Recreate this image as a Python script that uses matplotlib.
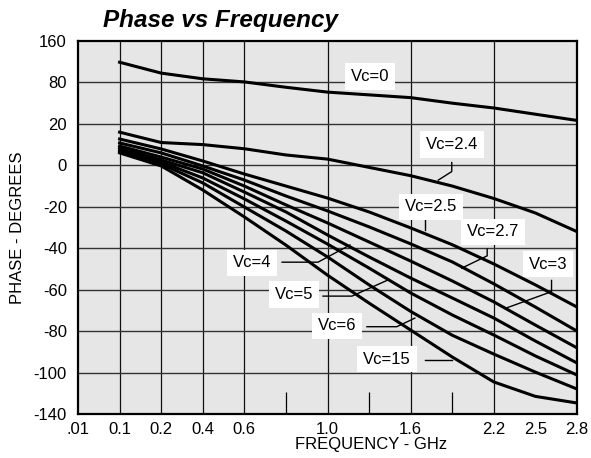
"""Phase vs Frequency chart, rebuilt with matplotlib"""

import matplotlib

matplotlib.use("Agg")

import matplotlib.pyplot as plt
import numpy as np

plt.rcParams["font.family"] = ["Liberation Sans", "DejaVu Sans"]

# axis grids (the chart's scales are not linear: each grid cell is one step)
FREQ_GRID = [0.01, 0.1, 0.2, 0.4, 0.6, 0.8, 1.0, 1.3, 1.6, 1.9, 2.2, 2.5, 2.8]
FREQ_TICKS = [0.01, 0.1, 0.2, 0.4, 0.6, 1.0, 1.6, 2.2, 2.5, 2.8]
FREQ_LABELS = [".01", "0.1", "0.2", "0.4", "0.6", "1.0", "1.6", "2.2", "2.5", "2.8"]
FREQ_LINES = [0.1, 0.2, 0.4, 0.6, 1.0, 1.6, 2.2]
FREQ_SHORT = [0.6, 0.8, 1.3, 1.9, 2.5]
PHASE_GRID = [-140, -100, -80, -60, -40, -20, 0, 20, 80, 160]
PHASE_LABELS = ["-140", "-100", "-80", "-60", "-40", "-20", "0", "20", "80", "160"]

# data (GHz / degrees)
freq = [0.1, 0.2, 0.4, 0.6, 0.8, 1.0, 1.3, 1.6, 1.9, 2.2, 2.5, 2.8]
phase_vc0 = [119, 98, 87, 81, 73, 66, 62, 58, 50, 43, 34, 25]
phase_vc24 = [16, 11, 10, 8, 5, 3, -1, -5, -10, -16, -23, -32]
phase_vc25 = [12.7, 7.9, 2.1, -4.2, -10.0, -15.8, -22.5, -30.2, -38.3, -47.6, -57.7, -68.4]
phase_vc27 = [10.8, 6.0, -0.3, -7.1, -14.8, -22.0, -29.7, -37.9, -46.6, -57.2, -68.4, -80.0]
phase_vc3 = [9.3, 4.0, -1.8, -10.0, -19.1, -27.8, -37.0, -46.2, -55.8, -65.9, -77.1, -88.1]
phase_vc4 = [8.4, 2.6, -3.6, -12.9, -22.5, -33.6, -44.2, -54.4, -64.0, -73.7, -84.8, -95.4]
phase_vc5 = [7.4, 1.6, -6.1, -16.2, -26.9, -38.0, -49.6, -61.6, -72.2, -81.9, -92.0, -102.4]
phase_vc6 = [6.7, 0.7, -8.5, -20.1, -31.7, -44.2, -57.7, -70.5, -82.0, -91.1, -99.8, -115.9]
phase_vc15 = [6.0, -0.3, -11.9, -24.9, -38.5, -53.0, -66.5, -79.5, -92.5, -109.1, -123.0, -129.4]

series = [phase_vc0, phase_vc24, phase_vc25, phase_vc27, phase_vc3,
          phase_vc4, phase_vc5, phase_vc6, phase_vc15]


def _grid_scale(nodes):
    """把不等距刻度映射成等距格子"""
    idx = np.arange(len(nodes), dtype=float)
    return (lambda v: np.interp(v, nodes, idx),
            lambda i: np.interp(i, idx, nodes))


fig = plt.figure(figsize=(5.91, 4.58), dpi=100)
ax = fig.add_axes([0.132, 0.0961, 0.8443, 0.8144])
ax.set_facecolor("#e6e6e6")

ax.set_xscale("function", functions=_grid_scale(FREQ_GRID))
ax.set_yscale("function", functions=_grid_scale(PHASE_GRID))
ax.set_xlim(FREQ_GRID[0], FREQ_GRID[-1])
ax.set_ylim(PHASE_GRID[0], PHASE_GRID[-1])

for f in FREQ_LINES:
    ax.axvline(f, color="#111111", lw=0.9, zorder=1)
for p in PHASE_GRID[1:-1]:
    ax.axhline(p, color="#333333", lw=1.0, zorder=1)

for vals in series:
    ax.plot(freq, vals, color="black", lw=2.2, zorder=3)

ax.set_xticks(FREQ_TICKS)
ax.set_xticklabels(FREQ_LABELS)
ax.set_xticks(FREQ_SHORT, minor=True)
ax.set_yticks(PHASE_GRID)
ax.set_yticklabels(PHASE_LABELS)
ax.yaxis.set_minor_locator(matplotlib.ticker.NullLocator())
ax.tick_params(axis="x", which="major", length=0, pad=6, labelsize=12)
ax.tick_params(axis="y", which="major", length=0, pad=8, labelsize=12)
ax.tick_params(axis="x", which="minor", direction="in", length=16, width=0.9,
               color="black")
for sp in ax.spines.values():
    sp.set_linewidth(1.6)

# curve labels (axes fraction) and their leader lines
labels = [
    ("Vc=0", 0.585, 0.905),
    ("Vc=2.4", 0.750, 0.722),
    ("Vc=2.5", 0.707, 0.555),
    ("Vc=2.7", 0.832, 0.488),
    ("Vc=3", 0.942, 0.402),
    ("Vc=4", 0.349, 0.405),
    ("Vc=5", 0.433, 0.320),
    ("Vc=6", 0.519, 0.236),
    ("Vc=15", 0.619, 0.147),
]
for txt, lx, ly in labels:
    ax.text(lx, ly, txt, transform=ax.transAxes, ha="center", va="center",
            fontsize=12, zorder=5,
            bbox=dict(boxstyle="square,pad=0.35", fc="white", ec="none"))

leaders = [
    ([0.749, 0.749, 0.722], [0.674, 0.650, 0.627]),
    ([0.695, 0.695], [0.520, 0.493]),
    ([0.820, 0.820, 0.769], [0.442, 0.424, 0.391]),
    ([0.949, 0.949, 0.856], [0.358, 0.328, 0.283]),
    ([0.409, 0.481, 0.545], [0.407, 0.407, 0.453]),
    ([0.491, 0.549, 0.619], [0.316, 0.316, 0.358]),
    ([0.579, 0.639, 0.675], [0.234, 0.234, 0.257]),
    ([0.695, 0.749], [0.145, 0.145]),
]
for xs, ys in leaders:
    ax.plot(xs, ys, transform=ax.transAxes, color="black", lw=1.0, zorder=4)

fig.text(103 / 591, 1 - 27 / 458, "Phase vs Frequency", fontsize=17.5,
         fontweight="bold", fontstyle="italic", va="baseline")
fig.text(17.5 / 591, 1 - 228 / 458, "PHASE - DEGREES", rotation=90,
         ha="center", va="center", fontsize=12)
fig.text(371.5 / 591, 1 - 445 / 458, "FREQUENCY - GHz", ha="center",
         va="center", fontsize=12)

fig.savefig("out.png", dpi=100, facecolor="white")
plt.close(fig)
